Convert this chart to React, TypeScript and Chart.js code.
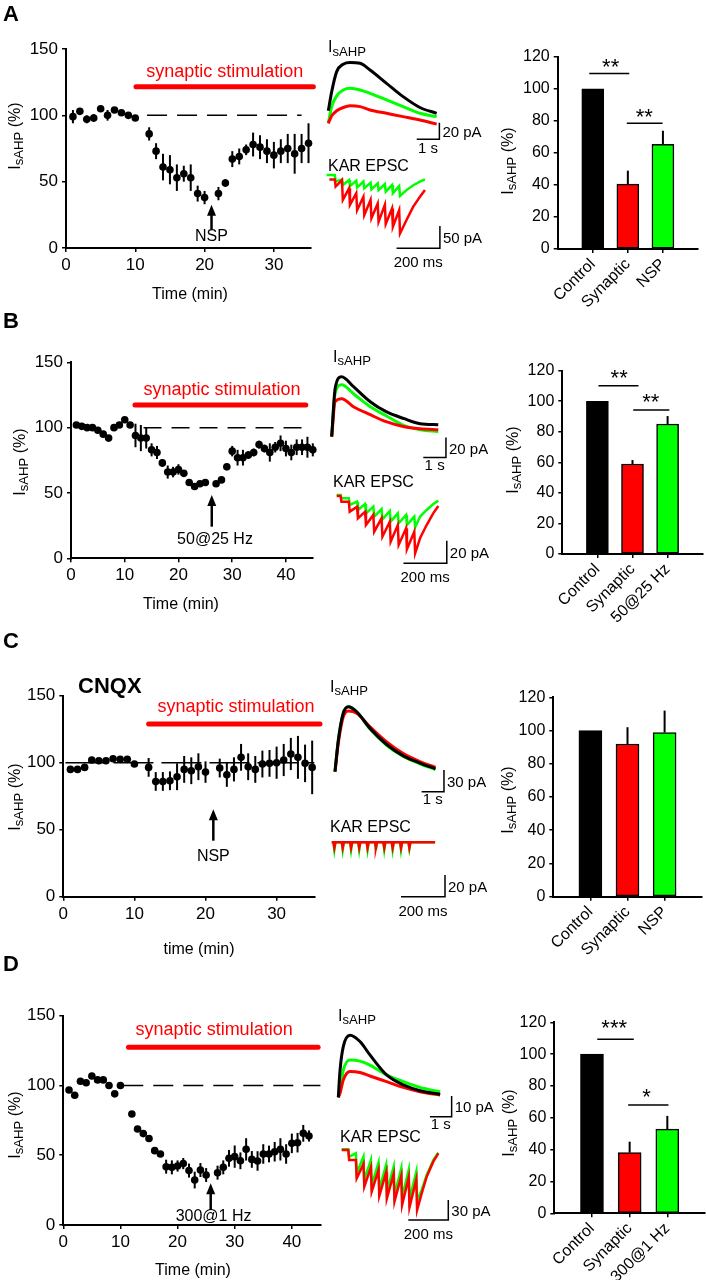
import React, { useEffect, useRef } from 'react';
import { Chart, registerables } from 'chart.js';
Chart.register(...registerables);

const FONT = 'Arial, "Liberation Sans", Helvetica, sans-serif';
Chart.defaults.font.family = FONT;
const RED = '#ff0000';
const GREEN = '#00ff00';
const BLACK = '#000000';
const BASE = 100;

// ---------------- Time courses (minutes, % of baseline) ----------------
const timeA = [1, 2, 3, 4, 5, 6, 7, 8, 9, 10, 12, 13, 14, 15, 16, 17, 18, 19, 20, 22, 23, 24, 25, 26, 27, 28, 29, 30, 31, 32, 33, 34, 35];
const meanA = [99, 103, 97, 98, 105, 100, 104, 102, 100, 98, 86, 73, 61, 59, 53, 56, 53, 41, 38, 41, 49, 67, 69, 74, 78, 76, 73, 70, 73, 75, 71, 75, 79];
const semA = [5, 2, 3, 3, 2, 4, 2, 2, 2, 2, 5, 6, 10, 11, 10, 6, 10, 6, 5, 5, 3, 6, 6, 4, 9, 9, 9, 10, 9, 11, 15, 11, 15];

const timeB = [1, 2, 3, 4, 5, 6, 7, 8, 9, 10, 11, 12, 13, 14, 15, 16, 17, 18, 19, 20, 21, 22, 23, 24, 25, 27, 28, 29, 30, 31, 32, 33, 34, 35, 36, 37, 38, 39, 40, 41, 42, 43, 44, 45];
const meanB = [102, 101, 100, 100, 98, 95, 92, 100, 102, 106, 102, 94, 92, 92, 83, 81, 73, 66, 66, 68, 65, 58, 55, 57, 58, 57, 60, 70, 82, 77, 77, 79, 81, 87, 84, 81, 85, 88, 84, 81, 85, 85, 85, 83];
const semB = [2, 2, 2, 2, 2, 2, 2, 2, 2, 2, 2, 9, 10, 8, 5, 5, 3, 5, 4, 4, 2, 2, 2, 2, 2, 2, 2, 2, 4, 6, 6, 3, 3, 3, 3, 7, 4, 6, 6, 6, 6, 6, 8, 5];

const timeC = [1, 2, 3, 4, 5, 6, 7, 8, 9, 10, 12, 13, 14, 15, 16, 17, 18, 19, 20, 22, 23, 24, 25, 26, 27, 28, 29, 30, 31, 32, 33, 34, 35];
const meanC = [95, 95, 96.5, 102, 101.5, 101.5, 103, 102.5, 102.5, 99, 96.5, 86, 86, 86.5, 89.5, 95, 94, 97, 93, 96, 91, 95, 104, 97, 95, 99, 99.5, 100, 102, 106.5, 104, 99.5, 96.5];
const semC = [1, 1, 1, 1, 1, 1, 1, 1, 1, 1, 7, 7, 7, 7, 10, 10, 10, 10, 8, 7, 9, 9, 10, 10, 10, 10, 10, 12, 12, 12, 16, 14, 20];

const timeD = [1, 2, 3, 4, 5, 6, 7, 8, 9, 10, 12, 13, 14, 15, 16, 17, 18, 19, 20, 21, 22, 23, 24, 25, 27, 28, 29, 30, 31, 32, 33, 34, 35, 36, 37, 38, 39, 40, 41, 42, 43];
const meanD = [96.7, 93, 103, 102, 106.8, 104, 104, 100, 94, 100, 79.5, 68.8, 65.5, 62, 53.3, 50.9, 41.8, 41.3, 42.3, 44, 39, 32.2, 39.4, 35.8, 37.5, 41.3, 47.8, 49, 46, 54.2, 47, 45.9, 50.9, 50.9, 52.5, 54.2, 50.9, 58.5, 59, 65.7, 63.8];
const semD = [2, 2, 2, 2, 2, 2, 2, 2, 2, 2, 2, 2, 2, 2, 2, 2, 5, 5, 4, 4, 5, 6, 5, 5, 5, 5, 6, 8, 6, 8, 6, 7, 7, 6, 7, 8, 7, 7, 7, 6, 4];

// stimulation bar [start, end, level], dashed baseline [start, end]
const stimA = [10.1, 35.7, 121.6];
const stimB = [11.9, 43.7, 117.3];
const stimC = [12, 36.1, 128.9];
const stimD = [11.4, 44.6, 127.3];
const dashA = [11.7, 34];
const dashB = [13.5, 44];
const dashC = [0.3, 35.3];
const dashD = [10.5, 45];

// ---------------- Bar summaries ----------------
const catsA = ['Control', 'Synaptic', 'NSP'];
const barA = [100, 40.5, 65.3];
const errA = [0, 8.4, 8.5];
const catsB = ['Control', 'Synaptic', '50@25 Hz'];
const barB = [100, 58.9, 85.1];
const errB = [0, 2.6, 5.2];
const catsC = ['Control', 'Synaptic', 'NSP'];
const barC = [100, 91.9, 98.8];
const errC = [0, 10.1, 13.2];
const catsD = ['Control', 'Synaptic', '300@1 Hz'];
const barD = [100, 38.1, 52.9];
const errD = [0, 6.9, 8.3];

// ---------------- sAHP traces (s, pA) ----------------
const ahpTA = [0, 0.15, 0.37, 0.66, 0.96, 1.4, 1.84, 2.57, 3.3, 4.04, 4.78];
const ahpCtlA = [15, 38, 62, 71, 73, 72, 64, 48, 32, 19, 12];
const ahpSynA = [0, 9, 15, 19, 21, 20, 16, 12, 8, 4, -1];
const ahpTstA = [0, 20, 33, 40, 42, 40, 36, 28, 20, 12, 8];

const ahpTB = [0, 0.15, 0.44, 0.96, 1.7, 2.4, 3.2, 3.9, 4.7];
const ahpCtlB = [0, 48, 60, 50, 35, 25, 18, 13, 12];
const ahpSynB = [0, 35, 38, 30, 22, 15, 10, 8, 7];
const ahpTstB = [0, 43, 52, 43, 30, 21, 11, 7, 5];

const ahpTC = [0, 0.15, 0.37, 0.6, 0.97, 1.57, 2.3, 3.06, 3.8, 4.5];
const ahpCtlC = [0, 44, 81, 90, 83, 60, 38, 22, 12, 4];
const ahpSynC = [0, 40, 76, 84, 81, 62, 41.5, 25, 14, 6];
const ahpTstC = [0, 44, 81, 90, 83, 59, 37, 21, 11, 3];

const ahpTD = [0, 0.08, 0.23, 0.54, 1.0, 1.46, 2.23, 3.0, 3.77, 4.7];
const ahpCtlD = [0, 13, 24.5, 30, 27, 20.5, 10.8, 6, 3.2, 1.5];
const ahpSynD = [0, 2, 8.4, 12.5, 12, 10.3, 7.6, 4.8, 2.7, 1.1];
const ahpTstD = [0, 3, 13, 18, 17.5, 15.6, 10.8, 7.6, 4.8, 2.7];

// ---------------- KAR EPSC trains (ms, pA) ----------------
const stimTA = [30, 63, 96, 129, 162, 195, 228, 261, 294, 327];
const synPreA = [-6, -7.5, -26, -37, -45, -52, -60, -63, -71, -75];
const synPkA = [-22, -52, -63, -75, -86, -93, -101, -106, -112, -127];
const tstPreA = [3.7, -6, -7.5, -9, -11, -13.4, -15, -16.4, -18.7, -21];
const tstPkA = [-11, -18.7, -21, -24, -26, -28.4, -30, -33.6, -37, -43];
const tailTA = [361, 392, 423, 446];
const synTailA = [-97, -67, -45, -30];
const tstTailA = [-30, -19, -11, -6];

const stimTB = [18, 56, 94, 131, 169, 207, 245, 282, 320, 358];
const synPreB = [-0.9, -5.9, -10.3, -14.7, -17.6, -20.6, -23.5, -26.5, -29.4, -32.4];
const synPkB = [-5.9, -14.7, -20.6, -26.5, -32.4, -36.8, -41.2, -44.1, -47.9, -51.5];
const tstPreB = [0, -2.9, -5.9, -7.9, -10.3, -12.4, -14.1, -16.2, -17.6, -19.1];
const tstPkB = [-2.9, -8.8, -13.2, -16.2, -19.1, -21.5, -23.5, -25, -26.5, -28.5];
const tailTB = [385, 415, 446, 469];
const synTailB = [-38, -26.5, -16, -9.7];
const tstTailB = [-19, -13.2, -7.9, -5];

const stimTC = [8, 46, 84, 121, 159, 197, 235, 273, 311, 349];
const synPreC = [0, 0, 0, 0, 0, 0, 0, 0, 0, 0];
const synPkC = [-5, -5, -5, -5, -5, -5, -5, -5, -5, -5];
const tstPreC = [0, 0, 0, 0, 0, 0, 0, 0, 0, 0];
const tstPkC = [-7, -7, -7, -7, -7, -7, -7, -7, -7, -6];
const tailTC = [400, 470];
const synTailC = [0, 0];
const tstTailC = [0, 0];

const stimTD = [33, 71, 109, 146, 184, 222, 260, 298, 335, 373];
const synPreD = [0, -15, -21, -26, -30, -33.5, -36, -39, -41, -44];
const synPkD = [-15, -42.5, -55, -62.5, -69, -72.5, -77.5, -82.5, -86, -90];
const tstPreD = [1, -5, -10, -15, -19, -22.5, -25, -27.5, -30, -32.5];
const tstPkD = [-10, -35, -45, -52.5, -59, -62.5, -67.5, -71, -74, -76];
const tailTD = [400, 425, 458, 483];
const synTailD = [-65, -40, -17.5, -5];
const tstTailD = [-60, -37.5, -15, -4];

// ---------------- helpers ----------------
type Rect = { left: number; top: number; width: number; height: number };
const fnt = (size: number, bold = false) => `${bold ? 'bold ' : ''}${size}px ${FONT}`;

function zip(xs: number[], ys: number[]) {
  return xs.map((x, i) => ({ x, y: ys[i] }));
}

function train(stim: number[], pre: number[], pk: number[], tailT: number[], tail: number[], start: number, rec?: number) {
  const pts: { x: number; y: number }[] = [{ x: start, y: pre[0] }];
  stim.forEach((t, k) => {
    pts.push({ x: t, y: pre[k] });
    pts.push({ x: t + 4, y: pk[k] });
    if (rec) pts.push({ x: t + rec, y: pre[k] });
  });
  tailT.forEach((t, i) => pts.push({ x: t, y: tail[i] }));
  return pts;
}

function drawIsahp(ctx: CanvasRenderingContext2D, x: number, cy: number, size: number, suffix: string, rotated: boolean, align: 'left' | 'center' = 'left') {
  const sub = size * 0.82;
  ctx.save();
  ctx.fillStyle = BLACK;
  ctx.textBaseline = 'alphabetic';
  ctx.textAlign = 'left';
  ctx.font = fnt(size);
  const wI = ctx.measureText('I').width;
  const wSuf = suffix ? ctx.measureText(suffix).width : 0;
  ctx.font = fnt(sub);
  const wS = ctx.measureText('sAHP').width;
  const total = wI + wS + wSuf;
  const cap = size * 0.716;
  let x0: number, base: number;
  if (rotated) {
    ctx.translate(x, cy);
    ctx.rotate(-Math.PI / 2);
    x0 = -total / 2;
    base = cap / 2;
  } else {
    x0 = align === 'center' ? x - total / 2 : x;
    base = cy + cap / 2;
  }
  ctx.font = fnt(size);
  ctx.fillText('I', x0, base);
  ctx.font = fnt(sub);
  ctx.fillText('sAHP', x0 + wI, base + size * 0.22);
  if (suffix) {
    ctx.font = fnt(size);
    ctx.fillText(suffix, x0 + wI + wS, base);
  }
  ctx.restore();
}

function text(ctx: CanvasRenderingContext2D, s: string, x: number, y: number, f: string, color = BLACK, align: CanvasTextAlign = 'center', baseline: CanvasTextBaseline = 'middle') {
  ctx.save();
  ctx.font = f;
  ctx.fillStyle = color;
  ctx.textAlign = align;
  ctx.textBaseline = baseline;
  ctx.fillText(s, x, y);
  ctx.restore();
}

function ChartBox({ rect, build }: { rect: Rect; build: () => any }) {
  const ref = useRef<HTMLCanvasElement | null>(null);
  useEffect(() => {
    const c = new Chart(ref.current as HTMLCanvasElement, build());
    return () => c.destroy();
  }, []);
  return (
    <canvas
      ref={ref}
      width={rect.width}
      height={rect.height}
      style={{ position: 'absolute', left: rect.left, top: rect.top, width: rect.width, height: rect.height }}
    />
  );
}

const zeroPad = (s: any) => {
  s.paddingLeft = 0;
  s.paddingRight = 0;
  s.paddingTop = 0;
  s.paddingBottom = 0;
};

// ---------------- scatter (time course) ----------------
const Y_W = 44;
const X_H = 30;

function scatterConfig(p: any) {
  const padL = p.area.l - p.rect.left - Y_W;
  const padT = p.area.t - p.rect.top;
  const padR = p.rect.left + p.rect.width - p.area.r;
  const padB = p.rect.top + p.rect.height - p.area.b - X_H;
  const ox = p.rect.left;
  const oy = p.rect.top;
  const plugin = {
    id: 'scatterAnnot',
    beforeDatasetsDraw(chart: any) {
      const ctx = chart.ctx;
      const xs = chart.scales.x;
      const ys = chart.scales.y;
      ctx.save();
      ctx.strokeStyle = BLACK;
      ctx.lineWidth = 2;
      p.t.forEach((t: number, i: number) => {
        const x = xs.getPixelForValue(t);
        ctx.beginPath();
        ctx.moveTo(x, ys.getPixelForValue(p.m[i] - p.e[i]));
        ctx.lineTo(x, ys.getPixelForValue(p.m[i] + p.e[i]));
        ctx.stroke();
      });
      ctx.restore();
    },
    afterDraw(chart: any) {
      const ctx = chart.ctx;
      const xs = chart.scales.x;
      const ys = chart.scales.y;
      const ax = xs.getPixelForValue(p.arrow.x);
      const a0 = ys.getPixelForValue(p.arrow.from);
      const a1 = ys.getPixelForValue(p.arrow.to);
      ctx.save();
      ctx.strokeStyle = BLACK;
      ctx.fillStyle = BLACK;
      ctx.lineWidth = 2.5;
      ctx.beginPath();
      ctx.moveTo(ax, a0);
      ctx.lineTo(ax, a1 + 8);
      ctx.stroke();
      ctx.beginPath();
      ctx.moveTo(ax, a1);
      ctx.lineTo(ax - 4.5, a1 + 11);
      ctx.lineTo(ax + 4.5, a1 + 11);
      ctx.closePath();
      ctx.fill();
      ctx.restore();
      text(ctx, p.arrow.label, xs.getPixelForValue(p.arrow.lx), ys.getPixelForValue(p.arrow.ly), fnt(16));
      text(ctx, 'synaptic stimulation', xs.getPixelForValue(p.stimText[0]), ys.getPixelForValue(p.stimText[1]), fnt(18), RED);
      text(ctx, p.letter.text, p.letter.x - ox, p.letter.y - oy, fnt(22, true), BLACK, 'left', 'alphabetic');
      text(ctx, p.xTitle.text, p.xTitle.x - ox, p.xTitle.y - oy, fnt(16));
      drawIsahp(ctx, p.yTitle.x - ox, p.yTitle.y - oy, 16, ' (%)', true);
      if (p.extra) text(ctx, p.extra.text, p.extra.x - ox, p.extra.y - oy, fnt(22, true), BLACK, 'left');
    },
  };
  return {
    type: 'scatter',
    data: {
      datasets: [
        {
          type: 'line',
          data: [{ x: p.stim[0], y: p.stim[2] }, { x: p.stim[1], y: p.stim[2] }],
          borderColor: RED,
          borderWidth: 5,
          borderCapStyle: 'round',
          pointRadius: 0,
          clip: false,
        },
        {
          type: 'line',
          data: [{ x: p.dash[0], y: BASE }, { x: p.dash[1], y: BASE }],
          borderColor: BLACK,
          borderWidth: 1.5,
          borderDash: p.dashPattern,
          pointRadius: 0,
          clip: false,
        },
        {
          type: 'scatter',
          data: zip(p.t, p.m),
          pointRadius: 3.8,
          backgroundColor: BLACK,
          borderColor: BLACK,
          borderWidth: 0,
          clip: false,
        },
      ],
    },
    options: {
      responsive: false,
      animation: false,
      devicePixelRatio: 1,
      events: [],
      layout: { padding: { left: padL, top: padT, right: padR, bottom: padB } },
      plugins: { legend: { display: false }, tooltip: { enabled: false } },
      scales: {
        x: {
          type: 'linear',
          min: 0,
          max: p.xMax,
          ticks: { stepSize: 10, includeBounds: false, font: { size: 17 }, color: BLACK, padding: 3, maxRotation: 0 },
          grid: { drawOnChartArea: false, tickLength: 4, color: BLACK, lineWidth: 1.5 },
          border: { display: true, color: BLACK, width: 2 },
          afterFit: (s: any) => {
            s.height = X_H;
            zeroPad(s);
          },
        },
        y: {
          type: 'linear',
          min: 0,
          max: 150,
          ticks: { stepSize: 50, font: { size: 17 }, color: BLACK, padding: 4 },
          grid: { drawOnChartArea: false, tickLength: 4, color: BLACK, lineWidth: 1.5 },
          border: { display: true, color: BLACK, width: 2 },
          afterFit: (s: any) => {
            s.width = Y_W;
            zeroPad(s);
          },
        },
      },
    },
    plugins: [plugin],
  };
}

// ---------------- bar summaries ----------------
const BY_W = 40;
const BX_H = 78;
const STAR = 22;

function barConfig(p: any) {
  const labels = ['', ...p.cats, ''];
  const padL = p.area.l - p.rect.left - BY_W;
  const padT = p.area.t - p.rect.top;
  const padR = p.rect.left + p.rect.width - p.area.r;
  const padB = p.rect.top + p.rect.height - p.area.b - BX_H;
  const ox = p.rect.left;
  const oy = p.rect.top;
  const plugin = {
    id: 'barAnnot',
    afterDatasetsDraw(chart: any) {
      const ctx = chart.ctx;
      const xs = chart.scales.x;
      const ys = chart.scales.y;
      ctx.save();
      ctx.strokeStyle = BLACK;
      ctx.lineWidth = 2;
      p.vals.forEach((v: number, i: number) => {
        if (!p.errs[i]) return;
        const x = xs.getPixelForValue(i + 1);
        ctx.beginPath();
        ctx.moveTo(x, ys.getPixelForValue(v));
        ctx.lineTo(x, ys.getPixelForValue(v + p.errs[i]));
        ctx.stroke();
      });
      ctx.lineWidth = 1.5;
      (p.sig || []).forEach((s: any) => {
        const y = ys.getPixelForValue(s.y);
        ctx.beginPath();
        ctx.moveTo(xs.getPixelForValue(s.x0), y);
        ctx.lineTo(xs.getPixelForValue(s.x1), y);
        ctx.stroke();
        text(ctx, s.text, xs.getPixelForValue(s.tx), ys.getPixelForValue(s.ty) + STAR * 0.57, fnt(STAR), BLACK, 'center', 'alphabetic');
      });
      ctx.restore();
    },
    afterDraw(chart: any) {
      drawIsahp(chart.ctx, p.yTitle.x - ox, p.yTitle.y - oy, 16, ' (%)', true);
    },
  };
  return {
    type: 'bar',
    data: {
      labels,
      datasets: [
        {
          data: [null, ...p.vals, null],
          backgroundColor: ['rgba(0,0,0,0)', BLACK, RED, GREEN, 'rgba(0,0,0,0)'],
          borderColor: BLACK,
          borderWidth: 1.5,
          borderSkipped: false,
          barThickness: p.barW,
        },
      ],
    },
    options: {
      responsive: false,
      animation: false,
      devicePixelRatio: 1,
      events: [],
      layout: { padding: { left: padL, top: padT, right: padR, bottom: padB } },
      plugins: { legend: { display: false }, tooltip: { enabled: false } },
      scales: {
        x: {
          offset: false,
          grid: { offset: false, drawOnChartArea: false, tickLength: 4, color: BLACK, lineWidth: 1.5 },
          border: { display: true, color: BLACK, width: 2 },
          ticks: {
            autoSkip: false,
            minRotation: 45,
            maxRotation: 45,
            font: { size: 16 },
            color: BLACK,
            padding: 2,
            callback: (v: number, i: number) => (i === 0 || i === labels.length - 1 ? null : labels[i]),
          },
          afterFit: (s: any) => {
            s.height = BX_H;
            zeroPad(s);
          },
        },
        y: {
          min: 0,
          max: 120,
          ticks: { stepSize: 20, font: { size: 16 }, color: BLACK, padding: 4 },
          grid: { drawOnChartArea: false, tickLength: 4, color: BLACK, lineWidth: 1.5 },
          border: { display: true, color: BLACK, width: 2 },
          afterFit: (s: any) => {
            s.width = BY_W;
            zeroPad(s);
          },
        },
      },
    },
    plugins: [plugin],
  };
}

// ---------------- traces ----------------
function traceConfig(p: any) {
  const xmin = -(p.origin[0] - p.rect.left) / p.ppx;
  const xmax = xmin + p.rect.width / p.ppx;
  const ymax = (p.origin[1] - p.rect.top) / p.ppy;
  const ymin = ymax - p.rect.height / p.ppy;
  const sb = p.bar;
  const ox = p.rect.left;
  const oy = p.rect.top;
  const plugin = {
    id: 'traceAnnot',
    afterDraw(chart: any) {
      const ctx = chart.ctx;
      const xs = chart.scales.x;
      const ys = chart.scales.y;
      if (p.label === 'IsAHP') drawIsahp(ctx, p.labelPos[0] - ox, p.labelPos[1] - oy, 16, '', false);
      else text(ctx, p.label, p.labelPos[0] - ox, p.labelPos[1] - oy, fnt(16), BLACK, 'left');
      const cx = xs.getPixelForValue(sb.x);
      const cy = ys.getPixelForValue(sb.y);
      const vy = ys.getPixelForValue(sb.y + sb.v);
      const hx = xs.getPixelForValue(sb.x - sb.h);
      text(ctx, sb.vl, cx + 3, (cy + vy) / 2 + 2, fnt(15), BLACK, 'left');
      text(ctx, sb.hl, (cx + hx) / 2, cy + sb.off, fnt(15), BLACK, 'center', 'middle');
    },
  };
  const datasets = p.lines.map((l: any) => ({
    type: 'line',
    data: l.pts,
    borderColor: l.color,
    borderWidth: l.w,
    pointRadius: 0,
    tension: l.smooth ? 0.4 : 0,
    cubicInterpolationMode: l.smooth ? 'monotone' : 'default',
    clip: false,
  }));
  datasets.push({
    type: 'line',
    data: [
      { x: sb.x - sb.h, y: sb.y },
      { x: sb.x, y: sb.y },
      { x: sb.x, y: sb.y + sb.v },
    ],
    borderColor: BLACK,
    borderWidth: 1.5,
    pointRadius: 0,
    tension: 0,
    clip: false,
  });
  return {
    type: 'line',
    data: { datasets },
    options: {
      responsive: false,
      animation: false,
      devicePixelRatio: 1,
      events: [],
      layout: { padding: 0 },
      plugins: { legend: { display: false }, tooltip: { enabled: false } },
      scales: {
        x: { type: 'linear', display: false, min: xmin, max: xmax },
        y: { type: 'linear', display: false, min: ymin, max: ymax },
      },
    },
    plugins: [plugin],
  };
}

const ahpLines = (t: number[], ctl: number[], syn: number[], tst: number[]) => [
  { pts: zip(t, ctl), color: BLACK, w: 3, smooth: true },
  { pts: zip(t, syn), color: RED, w: 3, smooth: true },
  { pts: zip(t, tst), color: GREEN, w: 3, smooth: true },
];

// ---------------- panel definitions ----------------
const scatterPanels = [
  {
    rect: { left: 0, top: 0, width: 330, height: 305 },
    area: { l: 66, t: 49, r: 310.6, b: 248 },
    xMax: 35.3, t: timeA, m: meanA, e: semA, stim: stimA, stimText: [22.9, 132.6],
    dash: dashA, dashPattern: [20, 10],
    arrow: { x: 21, from: 14, to: 32.6, label: 'NSP', lx: 21, ly: 8.8 },
    letter: { text: 'A', x: 3, y: 21 }, xTitle: { text: 'Time (min)', x: 190, y: 295 }, yTitle: { x: 14, y: 136 },
  },
  {
    rect: { left: 0, top: 310, width: 330, height: 305 },
    area: { l: 71, t: 362.3, r: 312.8, b: 558.3 },
    xMax: 45, t: timeB, m: meanB, e: semB, stim: stimB, stimText: [28.1, 128.8],
    dash: dashB, dashPattern: [18, 10],
    arrow: { x: 26.2, from: 24.2, to: 48.5, label: '50@25 Hz', lx: 26.8, ly: 14 },
    letter: { text: 'B', x: 3, y: 328 }, xTitle: { text: 'Time (min)', x: 181, y: 605 }, yTitle: { x: 19, y: 462 },
  },
  {
    rect: { left: 0, top: 630, width: 330, height: 330 },
    area: { l: 63.3, t: 695.7, r: 314.3, b: 896.7 },
    xMax: 35.3, t: timeC, m: meanC, e: semC, stim: stimC, stimText: [24.3, 141.6],
    dash: dashC, dashPattern: [40, 8],
    arrow: { x: 21.1, from: 41.8, to: 65.2, label: 'NSP', lx: 21.1, ly: 30.3 },
    letter: { text: 'C', x: 3, y: 648 }, xTitle: { text: 'time (min)', x: 199, y: 950 }, yTitle: { x: 14, y: 797 },
    extra: { text: 'CNQX', x: 78, y: 687 },
  },
  {
    rect: { left: 0, top: 950, width: 330, height: 330 },
    area: { l: 63.3, t: 1015.7, r: 320.4, b: 1225 },
    xMax: 45, t: timeD, m: meanD, e: semD, stim: stimD, stimText: [26.4, 139.8],
    dash: dashD, dashPattern: [20, 10],
    arrow: { x: 25.8, from: 10.7, to: 29.9, label: '300@1 Hz', lx: 26.3, ly: 6 },
    letter: { text: 'D', x: 3, y: 971 }, xTitle: { text: 'Time (min)', x: 193, y: 1271 }, yTitle: { x: 14, y: 1125 },
  },
];

const barPanels = [
  {
    rect: { left: 495, top: 30, width: 211, height: 305 }, area: { l: 557.7, t: 56.7, r: 698, b: 249 },
    cats: catsA, vals: barA, errs: errA, barW: 22, yTitle: { x: 507, y: 161 },
    sig: [
      { x0: 0.9, x1: 2.04, y: 109.5, text: '**', tx: 1.51, ty: 117 },
      { x0: 1.97, x1: 2.99, y: 78.4, text: '**', tx: 2.47, ty: 86 },
    ],
  },
  {
    rect: { left: 495, top: 345, width: 211, height: 290 }, area: { l: 562.3, t: 370.7, r: 702.7, b: 554 },
    cats: catsB, vals: barB, errs: errB, barW: 22, yTitle: { x: 512, y: 460 },
    sig: [
      { x0: 1.03, x1: 2.17, y: 110.2, text: '**', tx: 1.62, ty: 118.7 },
      { x0: 2.02, x1: 3.05, y: 94.3, text: '**', tx: 2.52, ty: 103 },
    ],
  },
  {
    rect: { left: 495, top: 670, width: 211, height: 310 }, area: { l: 553.3, t: 697.3, r: 701.7, b: 896.7 },
    cats: catsC, vals: barC, errs: errC, barW: 23, yTitle: { x: 507, y: 800 }, sig: [],
  },
  {
    rect: { left: 495, top: 990, width: 211, height: 290 }, area: { l: 554.3, t: 1022.3, r: 705, b: 1213.3 },
    cats: catsD, vals: barD, errs: errD, barW: 23, yTitle: { x: 508, y: 1123 },
    sig: [
      { x0: 1.14, x1: 2.11, y: 109.3, text: '***', tx: 1.59, ty: 119.8 },
      { x0: 1.96, x1: 3.03, y: 68.1, text: '*', tx: 2.45, ty: 76.4 },
    ],
  },
];

const tracePanels = [
  {
    rect: { left: 318, top: 30, width: 200, height: 132 }, origin: [328.3, 123.3], ppx: 22.67, ppy: 0.833,
    lines: ahpLines(ahpTA, ahpCtlA, ahpSynA, ahpTstA), label: 'IsAHP', labelPos: [328, 46.7],
    bar: { x: 4.9, y: -19.2, h: 1, v: 20, hl: '1 s', vl: '20 pA', off: 10 },
  },
  {
    rect: { left: 318, top: 155, width: 200, height: 140 }, origin: [328.3, 176.7], ppx: 0.2167, ppy: 0.4467,
    lines: [
      { pts: train(stimTA, synPreA, synPkA, tailTA, synTailA, 5), color: RED, w: 2.5 },
      { pts: train(stimTA, tstPreA, tstPkA, tailTA, tstTailA, -8), color: GREEN, w: 2.5 },
    ],
    label: 'KAR EPSC', labelPos: [328, 166.7],
    bar: { x: 515, y: -160.4, h: 200, v: 50, hl: '200 ms', vl: '50 pA', off: 15 },
  },
  {
    rect: { left: 318, top: 340, width: 200, height: 140 }, origin: [331.7, 436.7], ppx: 22.67, ppy: 1.0,
    lines: ahpLines(ahpTB, ahpCtlB, ahpSynB, ahpTstB), label: 'IsAHP', labelPos: [333, 356],
    bar: { x: 5.04, y: -20.7, h: 1, v: 20, hl: '1 s', vl: '20 pA', off: 8 },
  },
  {
    rect: { left: 318, top: 470, width: 200, height: 150 }, origin: [336.7, 495], ppx: 0.2167, ppy: 1.133,
    lines: [
      { pts: train(stimTB, synPreB, synPkB, tailTB, synTailB, 0), color: RED, w: 2.5 },
      { pts: train(stimTB, tstPreB, tstPkB, tailTB, tstTailB, 0), color: GREEN, w: 2.5 },
    ],
    label: 'KAR EPSC', labelPos: [333, 483],
    bar: { x: 508, y: -60.3, h: 200, v: 20, hl: '200 ms', vl: '20 pA', off: 15 },
  },
  {
    rect: { left: 318, top: 670, width: 200, height: 150 }, origin: [335, 771.7], ppx: 22.33, ppy: 0.722,
    lines: ahpLines(ahpTC, ahpCtlC, ahpSynC, ahpTstC), label: 'IsAHP', labelPos: [330, 686],
    bar: { x: 4.88, y: -27.7, h: 1, v: 30, hl: '1 s', vl: '30 pA', off: 8 },
  },
  {
    rect: { left: 318, top: 815, width: 200, height: 135 }, origin: [331.7, 842.3], ppx: 0.22, ppy: 1.083,
    lines: [
      { pts: train(stimTC, synPreC, synPkC, tailTC, synTailC, 0, 9), color: RED, w: 2.5 },
      { pts: train(stimTC, tstPreC, tstPkC, tailTC, tstTailC, 0, 9), color: GREEN, w: 2.5 },
    ],
    label: 'KAR EPSC', labelPos: [330, 828],
    bar: { x: 515, y: -50.2, h: 200, v: 20, hl: '200 ms', vl: '20 pA', off: 15 },
  },
  {
    rect: { left: 318, top: 995, width: 200, height: 140 }, origin: [338.3, 1097.3], ppx: 21.67, ppy: 2.067,
    lines: ahpLines(ahpTD, ahpCtlD, ahpSynD, ahpTstD), label: 'IsAHP', labelPos: [338, 1015],
    bar: { x: 5.23, y: -9.35, h: 1, v: 10, hl: '1 s', vl: '10 pA', off: 8 },
  },
  {
    rect: { left: 318, top: 1125, width: 200, height: 135 }, origin: [341.7, 1150], ppx: 0.2, ppy: 0.667,
    lines: [
      { pts: train(stimTD, synPreD, synPkD, tailTD, synTailD, 0), color: RED, w: 2.5 },
      { pts: train(stimTD, tstPreD, tstPkD, tailTD, tstTailD, 0), color: GREEN, w: 2.5 },
    ],
    label: 'KAR EPSC', labelPos: [340, 1138],
    bar: { x: 533, y: -105, h: 200, v: 30, hl: '200 ms', vl: '30 pA', off: 15 },
  },
];

export default function App() {
  return (
    <div style={{ position: 'absolute', left: 0, top: 0, width: 706, height: 1280, overflow: 'hidden', background: '#fff' }}>
      {tracePanels.map((p, i) => (
        <ChartBox key={'t' + i} rect={p.rect} build={() => traceConfig(p)} />
      ))}
      {scatterPanels.map((p, i) => (
        <ChartBox key={'s' + i} rect={p.rect} build={() => scatterConfig(p)} />
      ))}
      {barPanels.map((p, i) => (
        <ChartBox key={'b' + i} rect={p.rect} build={() => barConfig(p)} />
      ))}
    </div>
  );
}
